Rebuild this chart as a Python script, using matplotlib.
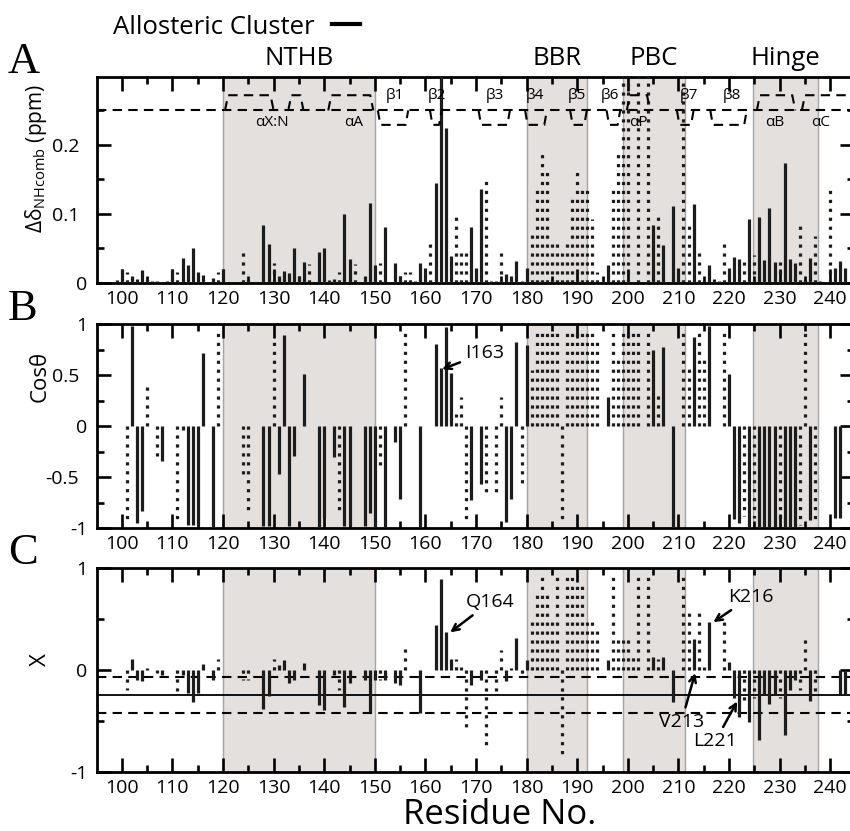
import matplotlib
matplotlib.use('Agg')
import matplotlib.pyplot as plt
from matplotlib.ticker import MultipleLocator, FixedLocator
from matplotlib.transforms import ScaledTranslation, blended_transform_factory
from matplotlib.lines import Line2D
import numpy as np

plt.rcParams['font.family'] = ['Open Sans', 'DejaVu Sans']
plt.rcParams['mathtext.fontset'] = 'custom'
plt.rcParams['mathtext.rm'] = 'Open Sans'
plt.rcParams['mathtext.it'] = 'Open Sans:italic'
plt.rcParams['axes.unicode_minus'] = False

# ---------------- data ----------------
# residues outside the allosteric cluster (drawn dotted)
dotted_residues = [101, 105, 107, 111, 119, 124, 125, 130, 137, 143, 146, 151, 156, 157,
                   161, 166, 167, 168, 172, 174, 175, 179, 181, 182, 183, 184, 185, 186,
                   187, 188, 189, 190, 191, 192, 193, 194, 195, 197, 198, 199, 200, 201,
                   202, 203, 204, 206, 211, 212, 214, 215, 219, 223, 225, 230, 234, 235,
                   237, 240]

# Panel A: combined chemical shift differences (ppm)
a_res = [99, 100, 101, 102, 103, 104, 105, 106, 107, 109, 110, 111, 112, 113, 114, 115, 116,
         118, 119, 120, 124, 125, 128, 129, 130, 131, 132, 133, 134, 135, 136, 137, 139, 140,
         141, 142, 143, 144, 145, 146, 148, 149, 150, 151, 152, 154, 155, 156, 157, 158, 159,
         160, 161, 162, 163, 164, 165, 166, 167, 168, 169, 170, 171, 172, 173, 174, 175, 176,
         177, 178, 179, 180, 181, 182, 183, 184, 185, 186, 187, 188, 189, 190, 191, 192, 193,
         194, 195, 196, 197, 198, 199, 200, 202, 204, 205, 206, 207, 209, 210, 211, 212, 213,
         214, 215, 216, 217, 218, 219, 220, 221, 222, 223, 224, 225, 226, 227, 228, 229, 230,
         231, 232, 233, 234, 235, 236, 237, 238, 240, 241, 242, 243]
a_val = [0.004, 0.020, 0.015, 0.009, 0.006, 0.019, 0.008, 0.003, 0.003, 0.003, 0.020, 0.016,
         0.036, 0.025, 0.050, 0.015, 0.011, 0.007, 0.016, 0.020, 0.043, 0.012, 0.084, 0.056,
         0.029, 0.009, 0.017, 0.014, 0.051, 0.010, 0.030, 0.027, 0.044, 0.051, 0.004, 0.006,
         0.016, 0.100, 0.035, 0.027, 0.009, 0.116, 0.026, 0.029, 0.081, 0.028, 0.010, 0.016,
         0.016, 0.003, 0.029, 0.021, 0.056, 0.145, 0.320, 0.225, 0.039, 0.097, 0.043, 0.043,
         0.081, 0.021, 0.136, 0.149, 0.003, 0.003, 0.043, 0.012, 0.009, 0.032, 0.003, 0.022,
         0.069, 0.137, 0.188, 0.163, 0.057, 0.057, 0.043, 0.057, 0.122, 0.163, 0.135, 0.135,
         0.093, 0.016, 0.003, 0.026, 0.134, 0.188, 0.320, 0.320, 0.320, 0.320, 0.084, 0.097,
         0.054, 0.111, 0.021, 0.320, 0.084, 0.114, 0.043, 0.005, 0.026, 0.005, 0.003, 0.056,
         0.021, 0.038, 0.034, 0.030, 0.092, 0.040, 0.095, 0.033, 0.109, 0.030, 0.030, 0.174,
         0.034, 0.028, 0.084, 0.010, 0.036, 0.068, 0.003, 0.137, 0.021, 0.032, 0.022]

# Panel B: cos(theta)
b_res = [101, 102, 103, 104, 105, 107, 108, 111, 112, 113, 114, 115, 116, 118, 119, 124, 125,
         128, 129, 130, 131, 132, 133, 134, 136, 139, 140, 142, 143, 144, 145, 148, 149, 150,
         151, 152, 154, 155, 156, 159, 162, 163, 164, 165, 166, 167, 168, 169, 171, 172, 174,
         175, 176, 177, 178, 179, 180, 181, 182, 183, 184, 185, 186, 187, 188, 189, 190, 191,
         192, 193, 194, 196, 197, 198, 199, 200, 201, 202, 204, 205, 206, 207, 209, 211, 212,
         213, 214, 215, 216, 219, 220, 221, 222, 223, 224, 225, 226, 227, 228, 229, 230, 231,
         232, 233, 234, 235, 236, 237, 241, 242]
b_val = [-0.93, 0.98, -0.95, -0.83, 0.39, -0.30, -0.34, -0.93, -0.04, -0.97, -0.97, -0.97,
         0.72, -1.00, 0.92, -0.49, -0.85, -0.98, -0.98, 0.85, -0.47, 0.90, -0.98, -0.29, 0.51,
         -1.00, -0.90, -0.30, -0.85, -0.98, -0.98, -0.98, -0.85, -1.00, -0.39, -1.00, -0.15,
         -0.71, 0.95, -0.99, 0.81, 0.57, 0.97, 0.52, 0.12, 0.29, -0.93, -0.72, -0.57, -0.65,
         -0.67, 0.29, -0.94, -0.71, 0.83, -0.57, 0.80, 0.55, 0.95, 0.95, 0.95, 0.95, 0.95,
         -0.93, 0.95, 0.92, 0.92, 0.92, 0.92, 0.92, 0.85, 0.29, 0.95, 0.70, 0.92, 0.95, 0.92,
         0.95, 0.95, 0.75, 0.30, 0.78, -1.00, 0.95, 0.57, 0.88, 0.95, 0.70, 0.98, 0.95, 0.51,
         -0.91, -0.95, -0.88, -1.00, -0.90, -0.99, -0.99, -0.99, -0.99, -0.95, -0.99, -0.99,
         -0.99, -0.97, 0.95, -0.92, -0.92, -0.90, -0.90]

# Panel C: chi
c_res = [101, 102, 103, 104, 105, 107, 108, 111, 112, 113, 114, 115, 116, 118, 119, 124, 125,
         128, 129, 130, 131, 132, 133, 134, 136, 139, 140, 142, 143, 144, 145, 148, 149, 150,
         151, 152, 154, 155, 156, 159, 162, 163, 164, 165, 166, 167, 168, 169, 171, 172, 174,
         175, 176, 177, 178, 179, 180, 181, 182, 183, 184, 185, 186, 187, 188, 189, 190, 191,
         192, 193, 194, 196, 197, 198, 199, 200, 201, 202, 204, 205, 206, 207, 209, 211, 212,
         213, 214, 215, 216, 219, 220, 221, 222, 223, 224, 225, 226, 227, 228, 229, 230, 231,
         232, 233, 234, 235, 236, 237, 242, 243]
c_val = [-0.20, 0.11, -0.10, -0.11, 0.02, -0.03, -0.05, -0.21, -0.05, -0.23, -0.31, -0.23,
         0.06, -0.10, 0.11, -0.10, -0.10, -0.38, -0.26, 0.11, 0.05, 0.10, -0.13, -0.10, 0.07,
         -0.34, -0.39, -0.05, -0.20, -0.36, -0.13, -0.10, -0.41, -0.10, -0.10, -0.10, -0.13,
         -0.15, 0.21, -0.42, 0.44, 0.89, 0.37, 0.11, 0.11, 0.03, -0.56, -0.15, -0.10, -0.74,
         -0.21, 0.20, -0.11, 0.02, 0.31, -0.05, 0.10, 0.47, 0.74, 0.93, 0.74, 0.47, 0.92,
         -0.84, 0.92, 0.92, 0.84, 0.84, 0.47, 0.47, 0.38, 0.10, 0.92, 0.30, 0.30, 0.30, 0.15,
         0.92, 0.92, 0.13, 0.11, 0.13, -0.31, 0.92, 0.56, 0.30, 0.56, 0.03, 0.47, 0.47, 0.08,
         -0.28, -0.46, -0.31, -0.51, -0.28, -0.69, -0.25, -0.33, -0.25, -0.28, -0.64, -0.20,
         -0.10, -0.20, 0.30, -0.30, -0.21, -0.25, -0.25]
c_thresholds = [-0.07, -0.25, -0.42]

# shaded regions
region_names = ['NTHB', 'BBR', 'PBC', 'Hinge']
region_start = [120.0, 180.0, 199.0, 224.8]
region_end = [150.0, 192.0, 211.3, 237.5]

# secondary structure (panel A cartoon)
helix_start = [120.4, 132.9, 140.8, 199.8, 225.5, 234.4]
helix_end = [130.0, 135.9, 149.7, 204.4, 233.1, 246.0]
helix_label = ['αX:N', '', 'αA', 'αP', 'αB', 'αC']
helix_label_x = [129.6, 0, 145.8, 202.1, 229.1, 238.0]
strand_start = [150.6, 160.9, 170.5, 179.7, 188.6, 195.8, 209.7, 216.3]
strand_end = [156.6, 163.2, 176.7, 184.0, 191.9, 198.5, 213.0, 223.5]
strand_label = ['β1', 'β2', 'β3', 'β4', 'β5', 'β6', 'β7', 'β8']
strand_label_x = [154.0, 162.2, 173.8, 181.7, 189.9, 196.5, 212.0, 220.5]

# ---------------- figure ----------------
W, H = 850, 831
fig = plt.figure(figsize=(W / 100, H / 100), dpi=100)

def fx(px):
    return px / W

def fy(py):
    return 1 - py / H

left, right = 97, 854
axA = fig.add_axes([fx(left), fy(282.7), (right - left) / W, (282.7 - 77.3) / H])
axB = fig.add_axes([fx(left), fy(528.3), (right - left) / W, (528.3 - 324.3) / H])
axC = fig.add_axes([fx(left), fy(771.7), (right - left) / W, (771.7 - 568.3) / H])

BAR = '#1c1c1c'
SHADE = '#e3e0dd'
DASH = (0, (4.5, 3))


def draw_bars(ax, res, val):
    res = np.asarray(res)
    val = np.asarray(val)
    dm = np.isin(res, dotted_residues)
    ax.vlines(res[~dm], 0, val[~dm], colors=BAR, lw=2.3, zorder=3)
    ax.vlines(res[dm], 0, val[dm], colors=BAR, lw=2.3,
              linestyles=[(0, (1.0, 1.8))], zorder=3)


for ax in (axA, axB, axC):
    ax.set_xlim(95.1, 244.7)
    for s, e in zip(region_start, region_end):
        ax.axvspan(s, e, facecolor=SHADE, edgecolor='#a5a5a5', lw=1.0, zorder=0)
    ax.xaxis.set_major_locator(MultipleLocator(10))
    ax.xaxis.set_minor_locator(MultipleLocator(5))
    ax.tick_params(which='major', direction='in', length=10, width=1.9,
                   top=True, right=True, labelsize=14, pad=5)
    ax.tick_params(which='minor', direction='in', length=5, width=1.9,
                   top=True, right=True)
    ax.tick_params(axis='y', pad=7)
    for sp in ax.spines.values():
        sp.set_linewidth(2.0)
    ax.spines['right'].set_visible(False)

# Panel A
draw_bars(axA, a_res, a_val)
axA.set_ylim(0, 0.298)
axA.yaxis.set_major_locator(FixedLocator([0, 0.1, 0.2]))
axA.set_yticklabels(['0', '0.1', '0.2'])
axA.yaxis.set_minor_locator(FixedLocator([0.05, 0.15, 0.25]))
axA.axhline(0.25, color='black', lw=1.5, ls=DASH, zorder=4)
y0, yh, ys = 0.25, 0.272, 0.229
for s, e in zip(helix_start, helix_end):
    axA.plot([s, s + 0.6, e - 0.6, e], [y0, yh, yh, y0], color='black', lw=1.5,
             ls=DASH, zorder=4, clip_on=True)
for s, e in zip(strand_start, strand_end):
    axA.plot([s, s + 0.5, e - 0.5, e], [y0, ys, ys, y0], color='black', lw=1.5,
             ls=DASH, zorder=4)
for lab, x in zip(helix_label, helix_label_x):
    if lab:
        axA.text(x, 0.233, lab, ha='center', va='center', fontsize=11, zorder=5)
for lab, x in zip(strand_label, strand_label_x):
    axA.text(x, 0.271, lab, ha='center', va='center', fontsize=11, zorder=5)

# Panel B
draw_bars(axB, b_res, b_val)
axB.set_ylim(-1, 1)
axB.yaxis.set_major_locator(FixedLocator([-1, -0.5, 0, 0.5, 1]))
axB.set_yticklabels(['-1', '-0.5', '0', '0.5', '1'])
axB.yaxis.set_minor_locator(FixedLocator([-0.75, -0.25, 0.25, 0.75]))
axB.annotate('I163', xy=(163.3, 0.56), xytext=(167.9, 0.72), fontsize=14,
             ha='left', va='center',
             arrowprops=dict(arrowstyle='->', lw=1.8, color='black',
                             shrinkA=2, shrinkB=0, mutation_scale=12))

# Panel C
draw_bars(axC, c_res, c_val)
axC.set_ylim(-1, 1)
axC.yaxis.set_major_locator(FixedLocator([-1, 0, 1]))
axC.set_yticklabels(['-1', '0', '1'])
axC.yaxis.set_minor_locator(FixedLocator([-0.5, 0.5]))
axC.axhline(c_thresholds[0], color='black', lw=1.5, ls=DASH, zorder=2)
axC.axhline(c_thresholds[1], color='black', lw=1.3, zorder=2)
axC.axhline(c_thresholds[2], color='black', lw=1.5, ls=DASH, zorder=2)
arrow_kw = dict(arrowstyle='->', lw=1.8, color='black', shrinkA=2, shrinkB=0,
                mutation_scale=12)
axC.annotate('Q164', xy=(164.9, 0.37), xytext=(168.0, 0.67), fontsize=14,
             ha='left', va='center', arrowprops=arrow_kw)
axC.annotate('K216', xy=(216.9, 0.47), xytext=(219.8, 0.72), fontsize=14,
             ha='left', va='center', arrowprops=arrow_kw)
axC.annotate('V213', xy=(213.3, -0.03), xytext=(210.6, -0.51), fontsize=14,
             ha='center', va='center', arrowprops=arrow_kw)
axC.annotate('L221', xy=(221.6, -0.31), xytext=(217.3, -0.70), fontsize=14,
             ha='center', va='center', arrowprops=arrow_kw)

# shift decimal tick labels left like the original
shift = ScaledTranslation(-8 / 100, 0, fig.dpi_scale_trans)
for ax in (axA, axB, axC):
    for lab in ax.get_yticklabels():
        if '.' in lab.get_text():
            lab.set_transform(lab.get_transform() + shift)

# region titles above panel A
tr = blended_transform_factory(axA.transData, fig.transFigure)
for name, s, e in zip(region_names, region_start, region_end):
    fig.text((s + e) / 2, fy(65), name, transform=tr, ha='center', va='baseline',
             fontsize=18.5)

fig.text(fx(113), fy(34), 'Allosteric Cluster', ha='left', va='baseline', fontsize=18.5)
fig.add_artist(Line2D([fx(332), fx(360)], [fy(24), fy(24)], color='black', lw=3,
                      transform=fig.transFigure))

# panel letters
for letter, base in zip(['A', 'B', 'C'], [73, 320, 564]):
    fig.text(fx(8), fy(base), letter, ha='left', va='baseline', fontsize=32,
             family='Liberation Serif')

# axis labels
fig.text(fx(36), fy(84), r'Δδ$_{\mathrm{NHcomb}}$ (ppm)', rotation=90,
         ha='center', va='top', fontsize=15)
fig.text(fx(40), fy(376), 'Cosθ', rotation=90, ha='center', va='center', fontsize=16)
fig.text(fx(40), fy(660), 'X', rotation=90, ha='center', va='center', fontsize=16)
fig.text(fx(500), fy(824), 'Residue No.', ha='center', va='baseline', fontsize=25)

fig.savefig('out.png', dpi=100)
